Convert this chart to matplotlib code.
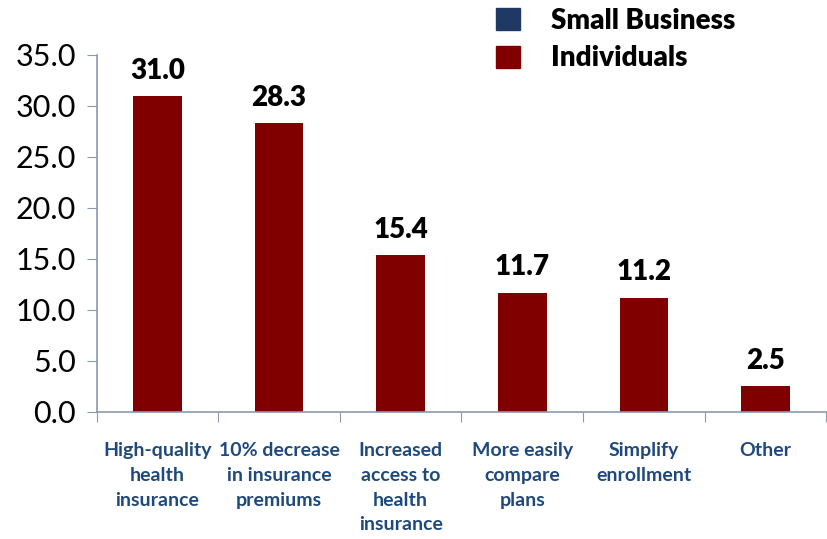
import matplotlib.pyplot as plt
from matplotlib.patches import Patch

plt.rcParams['font.family'] = ['Lato', 'DejaVu Sans']

# survey responses, individuals (%)
categories = ["High-quality\nhealth\ninsurance", "10% decrease\nin insurance\npremiums",
              "Increased\naccess to\nhealth\ninsurance", "More easily\ncompare\nplans",
              "Simplify\nenrollment", "Other"]
individuals = [31.0, 28.3, 15.4, 11.7, 11.2, 2.5]
yticks = [0, 5, 10, 15, 20, 25, 30, 35]

maroon = '#800000'
navy = '#1F3864'
axis_col = '#8C97B0'

fig = plt.figure(figsize=(8.27, 5.39), dpi=100)
ax = fig.add_axes([0.117, 0.236, 0.882, 0.662])

x = list(range(len(categories)))
bars = ax.bar(x, individuals, width=0.4, color=maroon)

for b, v in zip(bars, individuals):
    ax.text(b.get_x() + b.get_width() / 2, v + 1.2, f"{v:.1f}",
            ha='center', va='bottom', fontsize=20, fontweight='heavy')

ax.set_xlim(-0.5, len(categories) - 0.5)
ax.set_ylim(0, 35)
ax.set_yticks(yticks)
ax.set_yticklabels([f"{t:.1f}" for t in yticks], fontsize=22)

# ticks sit between categories, labels centred on bars
ax.set_xticks([i - 0.5 for i in range(len(categories) + 1)])
ax.set_xticklabels([])
ax.set_xticks(x, minor=True)
ax.set_xticklabels(categories, minor=True, fontsize=14, fontweight='bold',
                   color='#1F497D', va='top', linespacing=1.55)
ax.tick_params(axis='x', which='minor', length=0, pad=22)
ax.tick_params(axis='x', which='major', length=7, color=axis_col, direction='out')
ax.tick_params(axis='y', length=7, color=axis_col, pad=8)

for s in ['top', 'right']:
    ax.spines[s].set_visible(False)
for s in ['left', 'bottom']:
    ax.spines[s].set_color(axis_col)
    ax.spines[s].set_linewidth(1.2)

handles = [Patch(color=navy), Patch(color=maroon)]
fig.legend(handles, ["Small Business", "Individuals"], loc='upper left',
           bbox_to_anchor=(0.570, 1.032), frameon=False,
           prop={'size': 20, 'weight': 'heavy'}, handlelength=0.85, handleheight=0.85,
           handletextpad=1.1, labelspacing=0.42)

fig.savefig('out.png', dpi=100)
